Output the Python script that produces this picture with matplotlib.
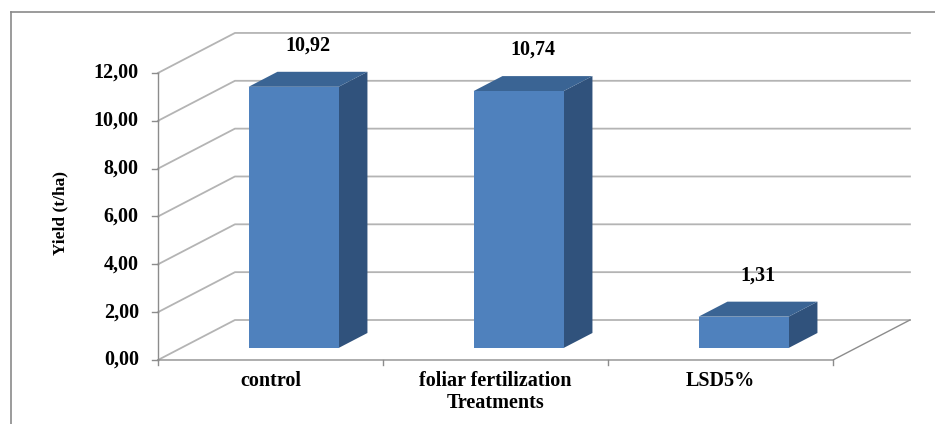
import matplotlib.pyplot as plt
from matplotlib.patches import Polygon
from matplotlib.lines import Line2D

categories = ["control", "foliar fertilization", "LSD5%"]
yields = [10.92, 10.74, 1.31]
labels = ["10,92", "10,74", "1,31"]
y_ticks = [0, 2, 4, 6, 8, 10, 12]

FRONT = "#4F81BD"
SIDE = "#30527C"
TOP = "#3A6494"
GRID = "#B4B4B4"
AXIS = "#8C8C8C"
FONT = "Liberation Serif"
FS = 14.5

# pseudo 3D geometry (data units)
DX, DY = 0.342, 1.672      # depth of floor / walls
W = 0.40                   # bar width
F0, F1 = 0.30, 0.675       # bar front / back as fraction of depth

fig = plt.figure(figsize=(9.35, 4.24), dpi=100)
ax = fig.add_axes([0, 0, 1, 1])
ax.set_xlim(-1.2022, 2.9533)
ax.set_ylim(-2.676, 15.05)
ax.axis("off")

n = len(categories)
x0, x1 = -0.5, n - 0.5

# walls and gridlines
for v in y_ticks:
    ax.plot([x0, x0 + DX, x1 + DX], [v, v + DY, v + DY], color=GRID, lw=1.3, zorder=1)
    ax.plot([x0 - 0.025, x0], [v, v], color=AXIS, lw=1, zorder=2)
    ax.text(x0 - 0.085, v, f"{v:.2f}".replace(".", ","), ha="right", va="center",
            fontsize=FS, fontweight="bold", family=FONT)

# floor and axes
ax.plot([x0, x0], [0, y_ticks[-1]], color=AXIS, lw=1, zorder=2)
ax.plot([x0, x1, x1 + DX], [0, 0, DY], color=AXIS, lw=1, zorder=2)
for i in range(n + 1):
    ax.plot([x0 + i, x0 + i], [0, -0.2], color=AXIS, lw=1, zorder=2)

# bars
for i, (val, lab) in enumerate(zip(yields, labels)):
    bx = i - W / 2 + F0 * DX
    by = F0 * DY
    ddx = (F1 - F0) * DX
    ddy = (F1 - F0) * DY
    front = [(bx, by), (bx + W, by), (bx + W, by + val), (bx, by + val)]
    side = [(bx + W, by), (bx + W + ddx, by + ddy), (bx + W + ddx, by + val + ddy), (bx + W, by + val)]
    top = [(bx, by + val), (bx + W, by + val), (bx + W + ddx, by + val + ddy), (bx + ddx, by + val + ddy)]
    ax.add_patch(Polygon(side, closed=True, facecolor=SIDE, edgecolor="none", zorder=3))
    ax.add_patch(Polygon(top, closed=True, facecolor=TOP, edgecolor="none", zorder=3))
    ax.add_patch(Polygon(front, closed=True, facecolor=FRONT, edgecolor="none", zorder=4))
    ax.text(bx + W / 2 + ddx / 2, by + val + ddy + 1.1, lab, ha="center", va="center",
            fontsize=FS, fontweight="bold", family=FONT)
    ax.text(i, -0.86, categories[i], ha="center", va="center",
            fontsize=FS, fontweight="bold", family=FONT)

ax.text(1, -1.78, "Treatments", ha="center", va="center",
        fontsize=FS, fontweight="bold", family=FONT)
ax.text(-0.9356, 6.15, "Yield (t/ha)", ha="center", va="center", rotation=90,
        fontsize=12.5, fontweight="bold", family=FONT)

# outer chart border (left and top edges visible)
fig.add_artist(Line2D([11 / 935, 11 / 935], [0, 1 - 12 / 424], color="#8A8A8A", lw=1.2,
                      transform=fig.transFigure))
fig.add_artist(Line2D([11 / 935, 1], [1 - 12 / 424, 1 - 12 / 424], color="#8A8A8A", lw=1.2,
                      transform=fig.transFigure))

fig.savefig("out.png", dpi=100)
